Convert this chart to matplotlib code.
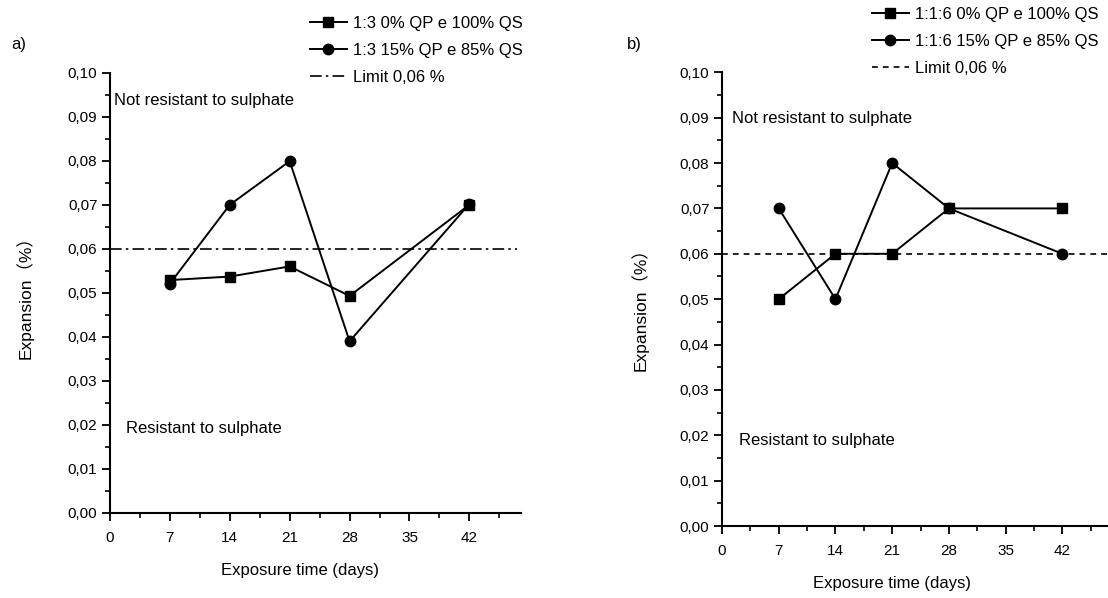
import numpy as np
import matplotlib
matplotlib.use("Agg")
import matplotlib.pyplot as plt
from matplotlib.ticker import MultipleLocator, FuncFormatter
from matplotlib.lines import Line2D

# data
days = [7, 14, 21, 28, 42]

a_qp0 = [0.0529, 0.0537, 0.0560, 0.0493, 0.0700]
a_qp15 = [0.0521, 0.0700, 0.0799, 0.0390, 0.0702]
a_labels = ["1:3 0% QP e 100% QS", "1:3 15% QP e 85% QS", "Limit 0,06 %"]

b_qp0 = [0.050, 0.060, 0.060, 0.070, 0.070]
b_qp15 = [0.070, 0.050, 0.080, 0.070, 0.060]
b_labels = ["1:1:6 0% QP e 100% QS", "1:1:6 15% QP e 85% QS", "Limit 0,06 %"]

limit = 0.06
x_ticks = [0, 7, 14, 21, 28, 35, 42]

plt.rcParams['font.family'] = ["Liberation Sans", "DejaVu Sans"]
ylab_font = ["Liberation Sans", "Noto Sans CJK SC", "DejaVu Sans"]

W, H = 1108, 598
fig = plt.figure(figsize=(W / 100, H / 100), dpi=100)

def fpos(x0, x1, ytop, ybot):
    return [x0 / W, 1 - ybot / H, (x1 - x0) / W, (ybot - ytop) / H]

comma = FuncFormatter(lambda v, p: f"{v:.2f}".replace(".", ","))

dashdot = (0, (7, 2.5, 1.5, 2.5))
dashed = (0, (3.5, 3))


def make_panel(rect, qp0, qp15, limit_style, limit_end):
    ax = fig.add_axes(rect)
    ax.plot(days, qp0, color="black", lw=1.4, marker="s", ms=7, zorder=3)
    ax.plot(days, qp15, color="black", lw=1.4, marker="o", ms=7.5, zorder=3)
    ax.plot([0, limit_end], [limit, limit], color="black", lw=1.2,
            linestyle=limit_style, zorder=2)
    ax.set_xlim(0, 48)
    ax.set_ylim(0, 0.10)
    ax.set_xticks(x_ticks)
    ax.xaxis.set_minor_locator(MultipleLocator(3.5))
    ax.yaxis.set_major_locator(MultipleLocator(0.01))
    ax.yaxis.set_minor_locator(MultipleLocator(0.005))
    ax.yaxis.set_major_formatter(comma)
    for s in ("top", "right"):
        ax.spines[s].set_visible(False)
    for s in ("left", "bottom"):
        ax.spines[s].set_linewidth(1.5)
    ax.tick_params(which="major", direction="out", length=6, width=1.3,
                   labelsize=11, pad=3)
    ax.tick_params(which="minor", direction="out", length=3.5, width=1.2)
    ax.tick_params(axis="x", pad=7)
    return ax


ax1 = make_panel(fpos(110, 520.7, 72.7, 513), a_qp0, a_qp15, dashdot, 47.6)
ax2 = make_panel(fpos(722, 1111, 72.3, 526), b_qp0, b_qp15, dashed, 48)

ax1.text(0.45, 0.0937, "Not resistant to sulphate", fontsize=12, va="center")
ax1.text(1.9, 0.0193, "Resistant to sulphate", fontsize=12, va="center")
ax2.text(1.2, 0.0898, "Not resistant to sulphate", fontsize=12, va="center")
ax2.text(2.1, 0.0188, "Resistant to sulphate", fontsize=12, va="center")

for ax, lx, ly in ((ax1, 34, 293), (ax2, 649, 305)):
    ax.set_ylabel("Expansion（%）", family=ylab_font, fontsize=12.5)
    bb = ax.get_position()
    ax.yaxis.set_label_coords((lx / W - bb.x0) / bb.width,
                              ((1 - ly / H) - bb.y0) / bb.height,
                              transform=ax.transAxes)

for ax, lx, ly in ((ax1, 300, 563), (ax2, 892, 576)):
    ax.set_xlabel("Exposure time (days)", fontsize=12)
    bb = ax.get_position()
    ax.xaxis.set_label_coords((lx / W - bb.x0) / bb.width,
                              ((1 - ly / H) - bb.y0) / bb.height,
                              transform=ax.transAxes)

fig.text(11 / W, 1 - 45 / H, "a)", fontsize=12, va="center")
fig.text(627 / W, 1 - 45 / H, "b)", fontsize=12, va="center")


def legend_handles(limit_style):
    return [Line2D([], [], color="black", lw=1.4, marker="s", ms=7),
            Line2D([], [], color="black", lw=1.4, marker="o", ms=7.5),
            Line2D([], [], color="black", lw=1.2, linestyle=limit_style)]


fig.legend(legend_handles(dashdot), a_labels,
           loc="upper left", bbox_to_anchor=(310 / W, 1 - 16 / H),
           frameon=False, fontsize=12, handlelength=2.2, handletextpad=0.4,
           labelspacing=0.72, borderpad=0, borderaxespad=0)
fig.legend(legend_handles(dashed), b_labels,
           loc="upper left", bbox_to_anchor=(872 / W, 1 - 7 / H),
           frameon=False, fontsize=12, handlelength=2.2, handletextpad=0.4,
           labelspacing=0.72, borderpad=0, borderaxespad=0)

fig.savefig("out.png", dpi=100)
